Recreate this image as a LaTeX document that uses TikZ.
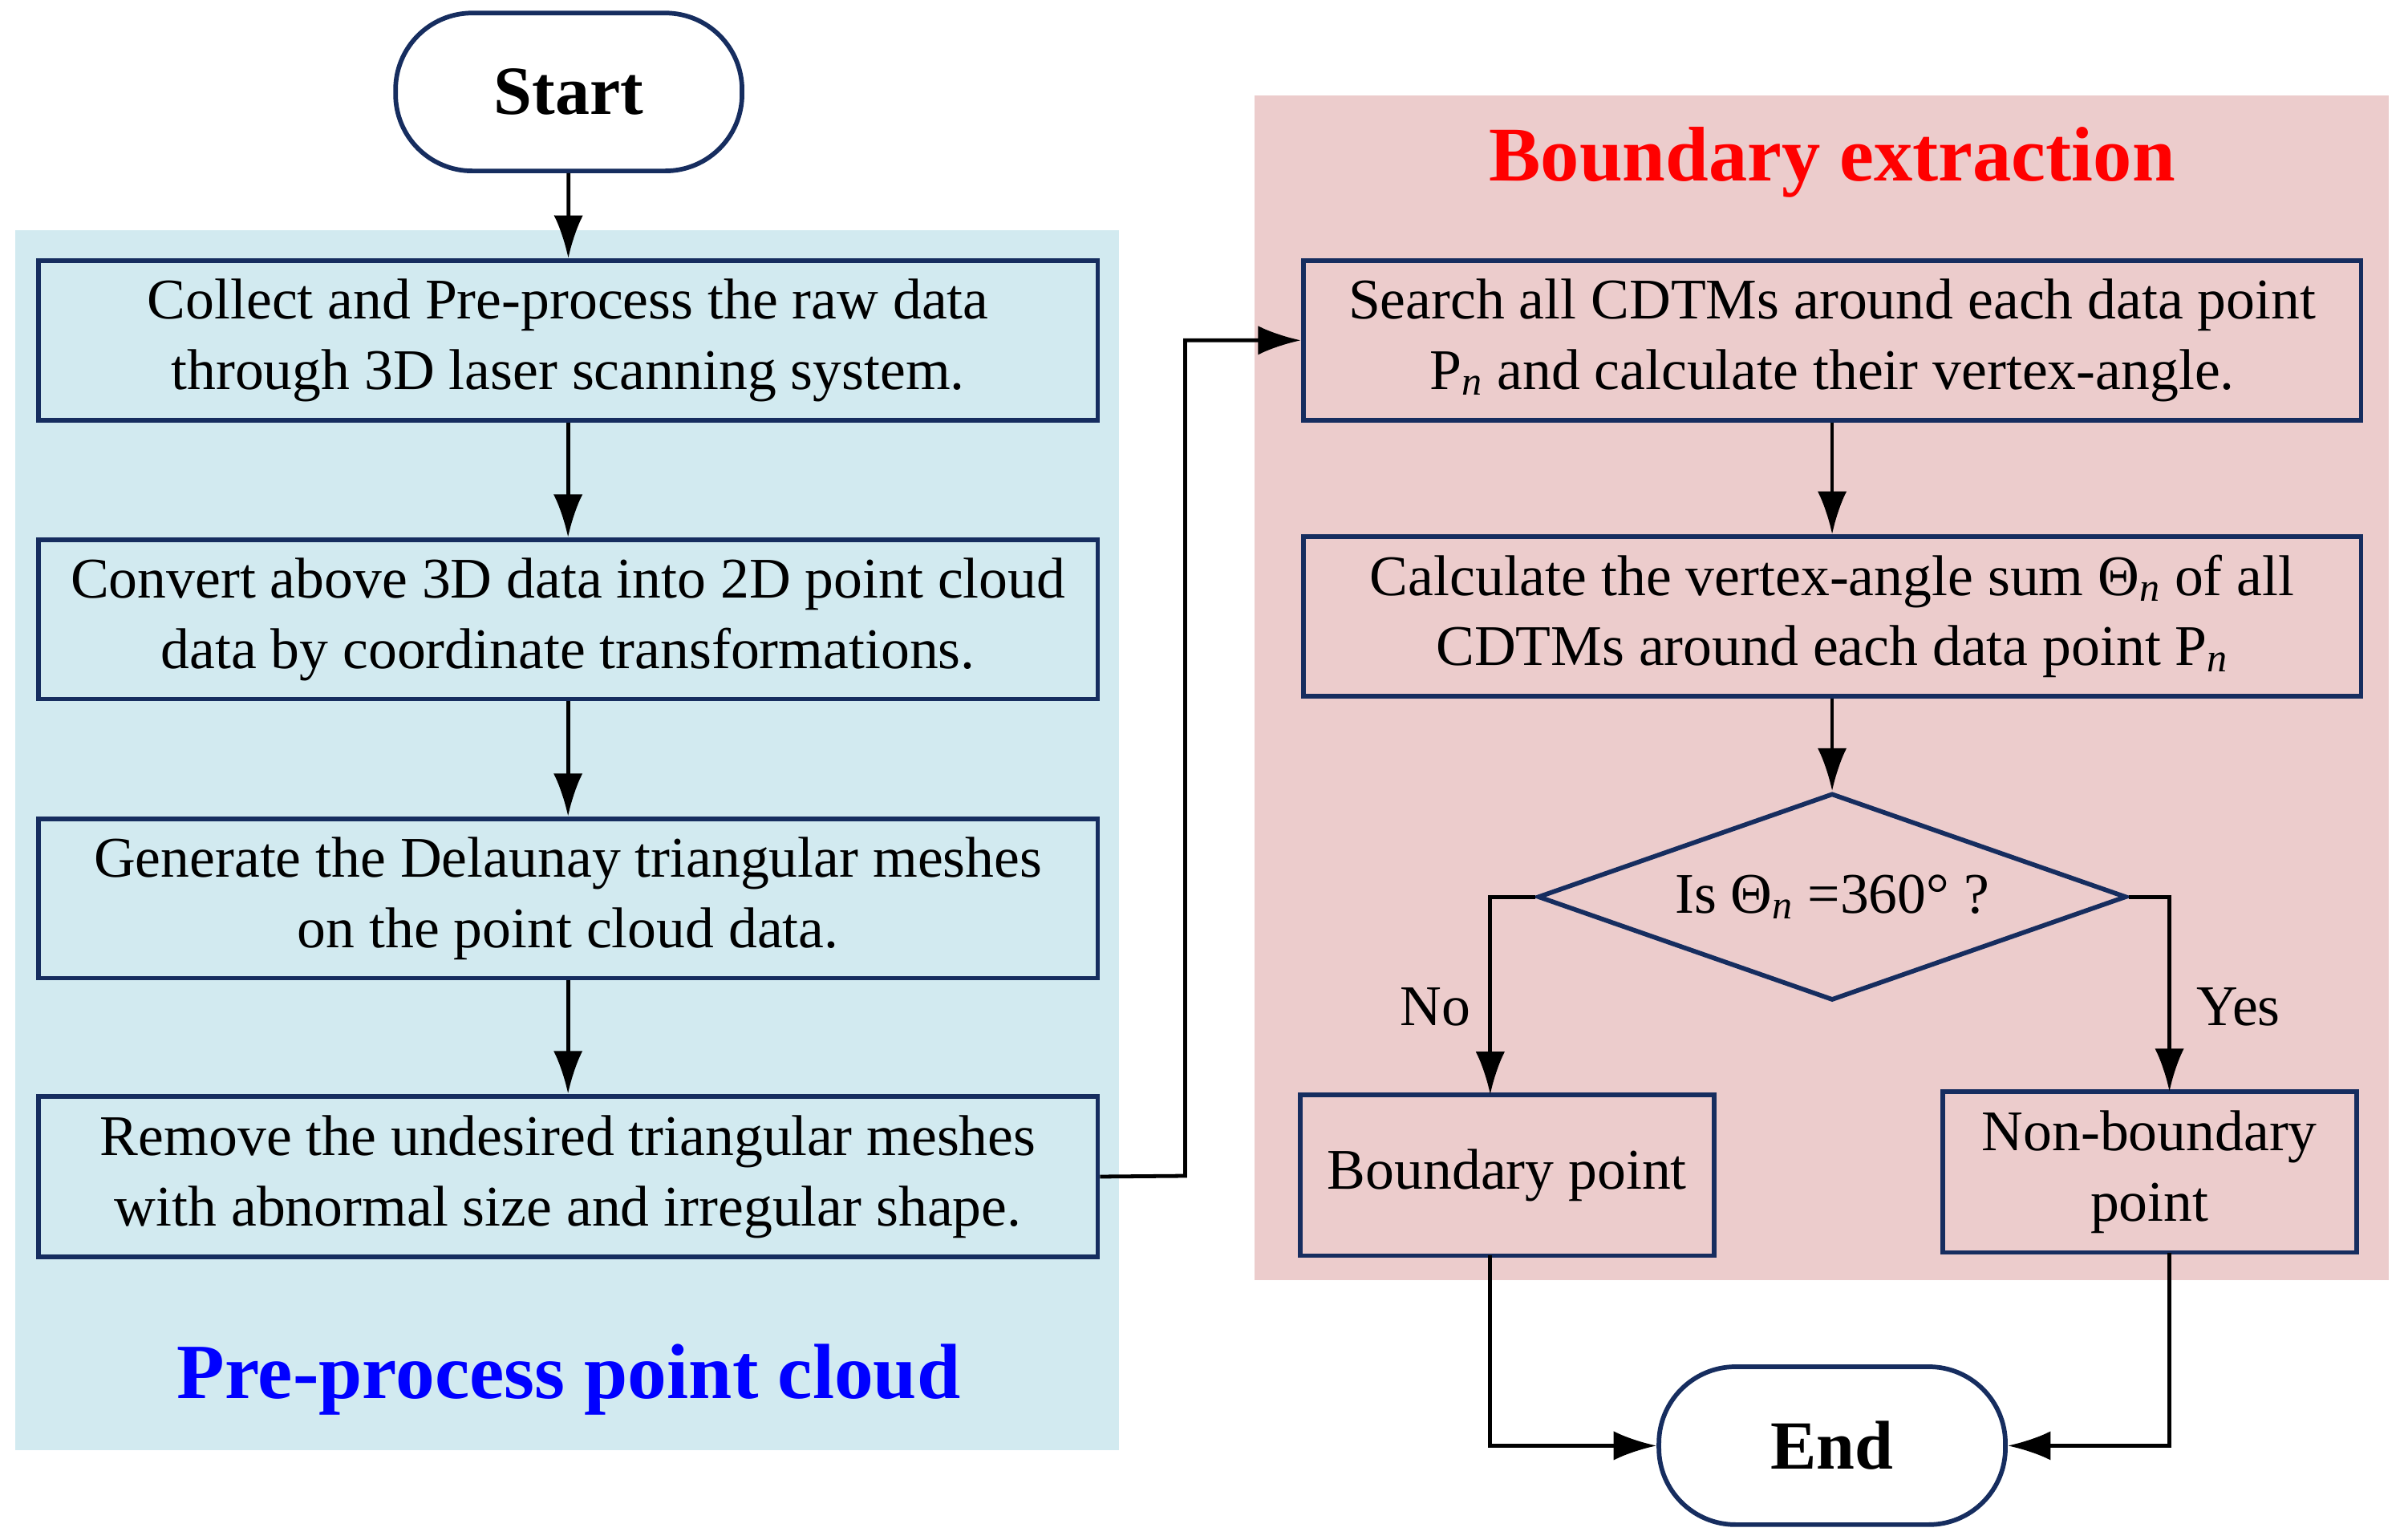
\documentclass[tikz,border=0pt]{standalone}
\usepackage{fontspec}
\setmainfont{Liberation Serif}
\usetikzlibrary{shapes.geometric,arrows.meta}
\definecolor{bgblue}{RGB}{210,234,240}
\definecolor{bgpink}{RGB}{236,204,204}
\definecolor{navy}{RGB}{22,45,95}
\begin{document}
\begin{tikzpicture}[x=1pt,y=-1pt,
  box/.style={draw=navy,line width=3pt,align=center,font=\fontsize{37.5}{46}\selectfont,inner sep=0pt},
  term/.style={draw=navy,line width=3pt,rounded corners=50pt,minimum width=226pt,minimum height=103pt,font=\fontsize{45}{50}\selectfont\bfseries},
  arr/.style={line width=2.5pt,-{Latex[length=28pt,width=19pt]}},
  lbl/.style={font=\fontsize{37.5}{42}\selectfont}]
\useasboundingbox (0,0) rectangle (1568,1004);
\fill[bgblue] (10,150) rectangle (730,946);
\fill[bgpink] (818,62) rectangle (1558,835);
\node[term,fill=white] (start) at (371,60) {Start};
\node[box,fill=bgblue,minimum width=691pt,minimum height=104pt] (b1) at (370.5,222) {Collect and Pre-process the raw data\\through 3D laser scanning system.};
\node[box,fill=bgblue,minimum width=691pt,minimum height=104pt] (b2) at (370.5,404) {Convert above 3D data into 2D point cloud\\data by coordinate transformations.};
\node[box,fill=bgblue,minimum width=691pt,minimum height=104pt] (b3) at (370.5,586) {Generate the Delaunay triangular meshes\\on the point cloud data.};
\node[box,fill=bgblue,minimum width=691pt,minimum height=105pt] (b4) at (370.5,767.5) {Remove the undesired triangular meshes\\with abnormal size and irregular shape.};
\node[font=\fontsize{51}{56}\selectfont\bfseries,text=blue] (t1) at (371,900) {Pre-process point cloud};
\node[font=\fontsize{50.5}{56}\selectfont\bfseries,text=red] (t2) at (1195,106) {Boundary extraction};
\node[box,fill=bgpink,minimum width=690pt,minimum height=104pt] (r1) at (1195,222) {Search all CDTMs around each data point\\P\textsubscript{\textit{n}} and calculate their vertex-angle.};
\node[box,fill=bgpink,minimum width=690pt,minimum height=104pt] (r2) at (1195,402) {Calculate the vertex-angle sum Θ\textsubscript{\textit{n}} of all\\CDTMs around each data point P\textsubscript{\textit{n}}};
\node[box,fill=bgpink,diamond,aspect=2.85,minimum width=384pt,minimum height=135pt] (d) at (1195,585) {Is Θ\textsubscript{\textit{n}} =360° ?};
\node[box,fill=bgpink,minimum width=270pt,minimum height=105pt] (bp) at (983,766.5) {Boundary point};
\node[box,fill=bgpink,minimum width=270pt,minimum height=105pt] (nb) at (1402,764.5) {Non-boundary\\point};
\node[term,fill=white] (end) at (1195,943) {End};
\draw[arr] (start) -- (b1);
\draw[arr] (b1) -- (b2);
\draw[arr] (b2) -- (b3);
\draw[arr] (b3) -- (b4);
\draw[arr] (b4.east) -- (773,767) -- (773,222) -- (r1.west);
\draw[arr] (r1) -- (r2);
\draw[arr] (r2) -- (d);
\draw[arr] (d.west) -- (972,585) -- (972,714);
\draw[arr] (d.east) -- (1415,585) -- (1415,712);
\node[lbl] (no) at (936,657) {No};
\node[lbl] (yes) at (1460,657) {Yes};
\draw[arr] (972,819) -- (972,943) -- (end.west);
\draw[arr] (1415,817) -- (1415,943) -- (end.east);
\end{tikzpicture}
\end{document}
